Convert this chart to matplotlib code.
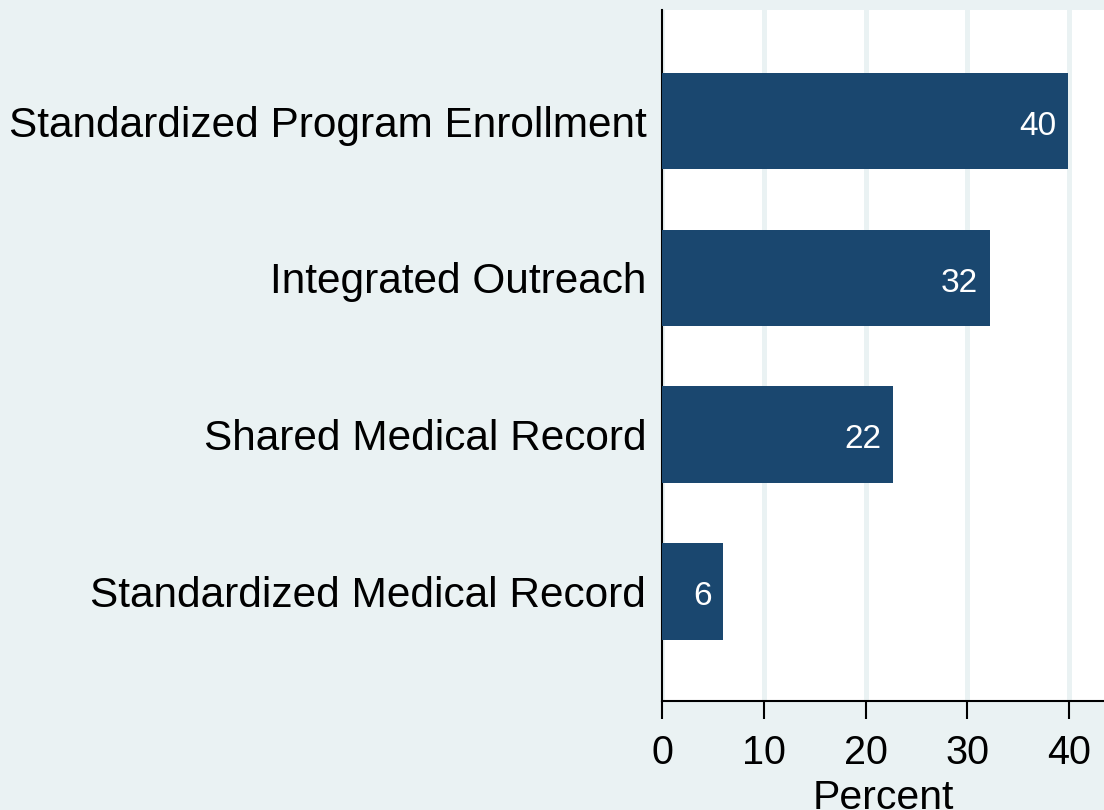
import numpy as np
import matplotlib
matplotlib.use("Agg")
import matplotlib.pyplot as plt

categories = ["Standardized Program Enrollment", "Integrated Outreach",
              "Shared Medical Record", "Standardized Medical Record"]
values = [39.9, 32.2, 22.7, 6.0]
value_labels = ["40", "32", "22", "6"]
xticks = [0, 10, 20, 30, 40]

plt.rcParams['font.family'] = ['Liberation Sans', 'DejaVu Sans']

bg = "#EAF2F3"
bar_color = "#1A476F"

fig = plt.figure(figsize=(11.04, 8.10), dpi=100, facecolor=bg)
ax = fig.add_axes([662.3 / 1104, 1 - 701 / 810, 1 - 662.3 / 1104, (701 - 10) / 810])
ax.set_facecolor("white")

y = np.arange(len(categories))
ax.barh(y, values, height=0.615, color=bar_color, zorder=3)

# value labels inside the bar ends
for yi, v, lab in zip(y, values, value_labels):
    ax.annotate(lab, (v, yi), xytext=(-8.5, -1.2), textcoords="offset points",
                ha="right", va="center_baseline", color="white", fontsize=24, zorder=4)

ax.set_xlim(0, 43.43)
ax.set_ylim(3.698, -0.708)
ax.set_xticks(xticks)
ax.set_yticks(y)
ax.set_yticklabels(categories)
ax.tick_params(axis="y", length=0, pad=11.5, labelsize=30.5)
ax.tick_params(axis="x", length=13, width=1.5, pad=11, labelsize=28.5)
ax.xaxis.grid(True, color=bg, linewidth=3.6, zorder=0)
ax.set_axisbelow(True)
ax.set_xlabel("Percent", fontsize=29.5, labelpad=5)

for s in ["top", "right"]:
    ax.spines[s].set_visible(False)
for s in ["left", "bottom"]:
    ax.spines[s].set_linewidth(1.5)

fig.savefig("out.png", dpi=100, facecolor=bg)
